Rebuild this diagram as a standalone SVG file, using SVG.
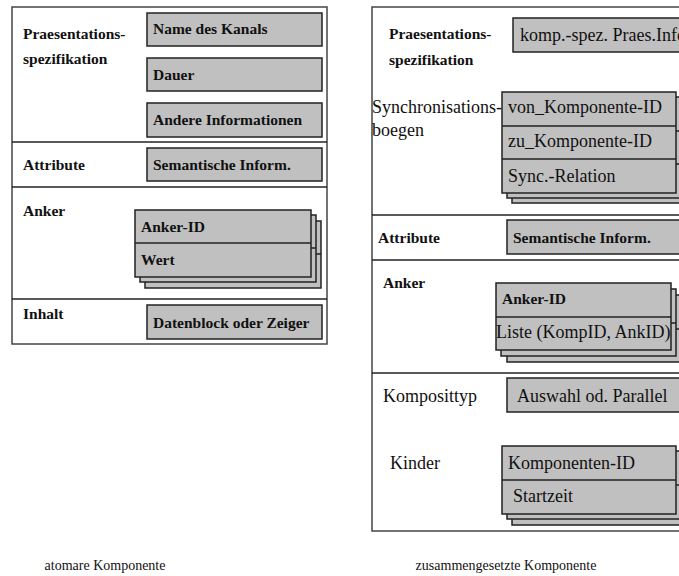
<svg xmlns="http://www.w3.org/2000/svg" xmlns:xlink="http://www.w3.org/1999/xlink" width="679" height="576" viewBox="0 0 679 576">
  <style>
    .panel { fill: #ffffff; stroke: #444444; stroke-width: 1.5; }
    .sep { stroke: #222222; stroke-width: 1.5; fill: none; }
    .box { fill: #c0c0c0; stroke: #222222; stroke-width: 1.5; }
    .div { stroke: #222222; stroke-width: 1.5; fill: none; }
    .lbl { font-family: "Liberation Serif", "Times New Roman", serif; font-weight: bold; font-size: 15.5px; fill: #111111; }
    .txt { font-family: "Liberation Serif", "Times New Roman", serif; font-size: 18px; fill: #111111; }
    .cap { font-family: "Liberation Serif", "Times New Roman", serif; font-size: 14px; fill: #111111; text-anchor: middle; }
  </style>
  <defs>
    <!-- two-row card used by the anchor stack of the atomic component -->
    <g id="card2L">
      <rect class="box" x="0" y="0" width="176" height="67"/>
      <line class="div" x1="0" y1="33" x2="176" y2="33"/>
    </g>
    <!-- three-row card for synchronisation arcs -->
    <g id="card3">
      <rect class="box" x="0" y="0" width="174" height="101"/>
      <line class="div" x1="0" y1="34" x2="174" y2="34"/>
      <line class="div" x1="0" y1="67" x2="174" y2="67"/>
    </g>
    <!-- two-row card for anchors of the composite component -->
    <g id="card2R">
      <rect class="box" x="0" y="0" width="175" height="67"/>
      <line class="div" x1="0" y1="34" x2="175" y2="34"/>
    </g>
    <!-- two-row card for children -->
    <g id="card2K">
      <rect class="box" x="0" y="0" width="174" height="68"/>
      <line class="div" x1="0" y1="34" x2="174" y2="34"/>
    </g>
  </defs>

  <!-- ===== atomic component ===== -->
  <g id="atomic">
    <rect class="panel" x="12" y="7" width="315" height="337"/>
    <g id="atomic-separators">
      <line class="sep" x1="12" y1="142" x2="327" y2="142"/>
      <line class="sep" x1="12" y1="187" x2="327" y2="187"/>
      <line class="sep" x1="12" y1="299" x2="327" y2="299"/>
    </g>

    <g id="a-praes">
      <text class="lbl" x="23" y="39">Praesentations-</text>
      <text class="lbl" x="23" y="64">spezifikation</text>
    </g>
    <g id="a-kanal">
      <rect class="box" x="147" y="13" width="175" height="33"/>
      <text class="lbl" x="153" y="34">Name des Kanals</text>
    </g>
    <g id="a-dauer">
      <rect class="box" x="147" y="58" width="175" height="33"/>
      <text class="lbl" x="153" y="80">Dauer</text>
    </g>
    <g id="a-andere">
      <rect class="box" x="147" y="103" width="175" height="34"/>
      <text class="lbl" x="153" y="125">Andere Informationen</text>
    </g>

    <g id="a-attribute">
      <text class="lbl" x="23" y="170">Attribute</text>
    </g>
    <g id="a-semantik">
      <rect class="box" x="147" y="148" width="175" height="33"/>
      <text class="lbl" x="153" y="170">Semantische Inform.</text>
    </g>

    <g id="a-anker">
      <text class="lbl" x="23" y="216">Anker</text>
    </g>
    <g id="a-anker-stack">
      <use xlink:href="#card2L" x="145" y="221"/>
      <use xlink:href="#card2L" x="140" y="215"/>
      <use xlink:href="#card2L" x="135" y="210"/>
      <text class="lbl" x="141" y="232">Anker-ID</text>
      <text class="lbl" x="141" y="265">Wert</text>
    </g>

    <g id="a-inhalt">
      <text class="lbl" x="23" y="319">Inhalt</text>
    </g>
    <g id="a-daten">
      <rect class="box" x="147" y="305" width="175" height="34"/>
      <text class="lbl" x="153" y="328">Datenblock oder Zeiger</text>
    </g>
  </g>

  <!-- ===== composite component ===== -->
  <g id="composite">
    <rect class="panel" x="372" y="7" width="340" height="524"/>
    <g id="composite-separators">
      <line class="sep" x1="372" y1="215" x2="679" y2="215"/>
      <line class="sep" x1="372" y1="260" x2="679" y2="260"/>
      <line class="sep" x1="372" y1="373" x2="679" y2="373"/>
    </g>

    <g id="c-praes">
      <text class="lbl" x="389" y="39">Praesentations-</text>
      <text class="lbl" x="389" y="65">spezifikation</text>
    </g>
    <g id="c-praesinfo">
      <rect class="box" x="513" y="18" width="200" height="34"/>
      <text class="txt" x="520" y="41">komp.-spez. Praes.Info</text>
    </g>

    <g id="c-sync">
      <text class="txt" x="372" y="113">Synchronisations-</text>
      <text class="txt" x="372" y="136">boegen</text>
    </g>
    <g id="c-sync-stack">
      <use xlink:href="#card3" x="512" y="102"/>
      <use xlink:href="#card3" x="507" y="97"/>
      <use xlink:href="#card3" x="502" y="92"/>
      <text class="txt" x="508" y="113">von_Komponente-ID</text>
      <text class="txt" x="508" y="147">zu_Komponente-ID</text>
      <text class="txt" x="508" y="182">Sync.-Relation</text>
    </g>

    <g id="c-attribute">
      <text class="lbl" x="378" y="243">Attribute</text>
    </g>
    <g id="c-semantik">
      <rect class="box" x="507" y="220" width="200" height="34"/>
      <text class="lbl" x="513" y="243">Semantische Inform.</text>
    </g>

    <g id="c-anker">
      <text class="lbl" x="383" y="288">Anker</text>
    </g>
    <g id="c-anker-stack">
      <use xlink:href="#card2R" x="507" y="295"/>
      <use xlink:href="#card2R" x="501" y="289"/>
      <use xlink:href="#card2R" x="496" y="283"/>
      <text class="lbl" x="502" y="304">Anker-ID</text>
      <text class="txt" x="496" y="338">Liste (KompID, AnkID)</text>
    </g>

    <g id="c-typ">
      <text class="txt" x="383" y="402">Komposittyp</text>
    </g>
    <g id="c-auswahl">
      <rect class="box" x="507" y="378" width="200" height="34"/>
      <text class="txt" x="517" y="402">Auswahl od. Parallel</text>
    </g>

    <g id="c-kinder">
      <text class="txt" x="390" y="469">Kinder</text>
    </g>
    <g id="c-kinder-stack">
      <use xlink:href="#card2K" x="512" y="457"/>
      <use xlink:href="#card2K" x="507" y="451"/>
      <use xlink:href="#card2K" x="502" y="446"/>
      <text class="txt" x="508" y="469">Komponenten-ID</text>
      <text class="txt" x="513" y="502">Startzeit</text>
    </g>
  </g>

  <!-- captions -->
  <text class="cap" x="105" y="570">atomare Komponente</text>
  <text class="cap" x="506" y="570">zusammengesetzte Komponente</text>
</svg>
